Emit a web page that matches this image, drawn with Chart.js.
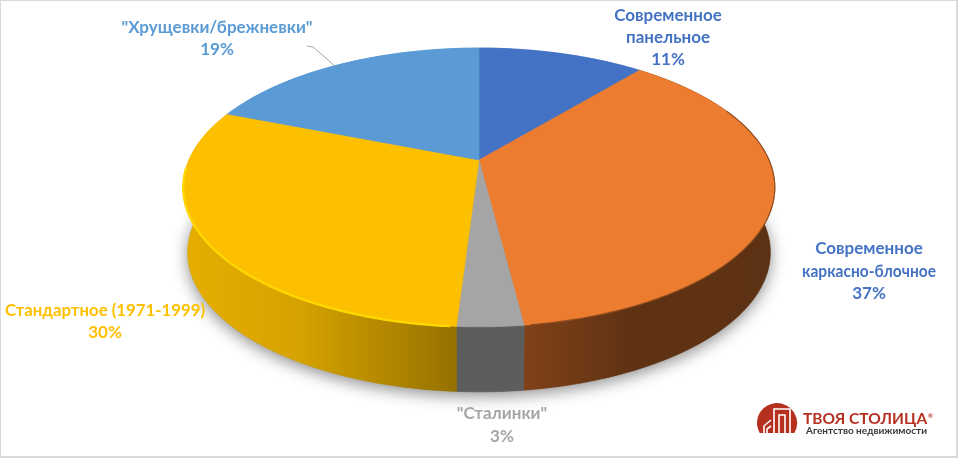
<!DOCTYPE html>
<html lang="ru">
<head>
<meta charset="utf-8">
<title>Структура жилья</title>
<script src="https://cdn.jsdelivr.net/npm/chart.js@4"></script>
<style>
  html, body { margin: 0; padding: 0; background: #fff; }
  canvas { display: block; }
</style>
</head>
<body>
<canvas id="pie" width="958" height="458"></canvas>
<script>
const categories = ['Современное панельное', 'Современное каркасно-блочное', '"Сталинки"', 'Стандартное (1971-1999)', '"Хрущевки/брежневки"'];
const shares = [11, 37, 3, 30, 19];
const sliceColors = ['#4472c4', '#eb7c30', '#a5a5a5', '#fdc000', '#5b9bd5'];
const labelLines = [['Современное', 'панельное'], ['Современное', 'каркасно-блочное'], ['"Сталинки"'], ['Стандартное (1971-1999)'], ['"Хрущевки/брежневки"']];
const labelColors = ['#4472c4', '#4472c4', '#a5a5a5', '#ffc000', '#5b9bd5'];

const FONT = 'Lato, "Open Sans", sans-serif';

// projection of the flat pie onto the tilted disc
const view = { cx: 479, cy: 160, rx: 290, ry: 134, k: 0.197, depth: 65, shrink: 0.985 };
const labelBoxes = [[668, 16, 22], [869, 249, 22.5], [502, 414, 23], [105, 311, 22], [217, 28, 22]];
const LABEL_MAX_WIDTH = 200;
const LONG_LINE_WIDTH = 134; // Lato runs wider than the original on this line

function topPoint(a) {
  const u = Math.cos(a), v = Math.sin(a);
  const w = 1 - view.k * v;
  return [view.cx + view.rx * u / w, view.cy + view.ry * v / w];
}
function bottomPoint(a) {
  const p = topPoint(a);
  return [view.cx + (p[0] - view.cx) * view.shrink, p[1] + view.depth];
}
function rimPoints(fn, a0, a1) {
  const pts = [];
  const n = Math.max(2, Math.ceil(Math.abs(a1 - a0) / 0.01));
  for (let i = 0; i <= n; i++) pts.push(fn(a0 + (a1 - a0) * i / n));
  return pts;
}
function trace(ctx, pts, start) {
  pts.forEach((p, i) => {
    if (i === 0 && start) ctx.moveTo(p[0], p[1]);
    else ctx.lineTo(p[0], p[1]);
  });
}

function wallFill(ctx, i) {
  const g = ctx.createLinearGradient(183, 0, 776, 0);
  if (i === 1) {
    g.addColorStop(0.58, '#7f4118');
    g.addColorStop(0.76, '#5f3213');
    g.addColorStop(1, '#5d3113');
  } else if (i === 2) {
    g.addColorStop(0, '#5a5a5a');
    g.addColorStop(1, '#5f5f5f');
  } else if (i === 3) {
    g.addColorStop(0, '#e6ae00');
    g.addColorStop(0.2, '#d6a200');
    g.addColorStop(0.46, '#957100');
  } else {
    g.addColorStop(0, sliceColors[i]);
    g.addColorStop(1, sliceColors[i]);
  }
  return g;
}

const discPlugin = {
  id: 'disc',
  beforeDraw(chart) {
    const ctx = chart.ctx;
    ctx.save();
    ctx.fillStyle = '#fff';
    ctx.fillRect(0, 0, 958, 458);
    ctx.strokeStyle = '#d9d9d9';
    ctx.lineWidth = 2;
    ctx.strokeRect(0, 0, 957, 457);
    ctx.restore();
  },
  beforeDatasetDraw(chart, args) {
    const ctx = chart.ctx;
    const arcs = chart.getDatasetMeta(args.index).data;
    ctx.save();

    // soft shadow under the disc
    ctx.save();
    ctx.shadowColor = 'rgba(0,0,0,0.45)';
    ctx.shadowBlur = 16;
    ctx.shadowOffsetY = 4;
    ctx.fillStyle = '#888';
    ctx.beginPath();
    trace(ctx, rimPoints(bottomPoint, 0, Math.PI * 2), true);
    ctx.closePath();
    ctx.fill();
    ctx.restore();

    // side walls
    arcs.forEach((arc, i) => {
      ctx.beginPath();
      trace(ctx, rimPoints(topPoint, arc.startAngle, arc.endAngle), true);
      trace(ctx, rimPoints(bottomPoint, arc.endAngle, arc.startAngle), false);
      ctx.closePath();
      ctx.fillStyle = wallFill(ctx, i);
      ctx.fill();
      ctx.strokeStyle = ctx.fillStyle;
      ctx.lineWidth = 0.6;
      ctx.stroke();
    });

    // top faces
    arcs.forEach((arc, i) => {
      ctx.beginPath();
      ctx.moveTo(view.cx, view.cy);
      trace(ctx, rimPoints(topPoint, arc.startAngle, arc.endAngle), false);
      ctx.closePath();
      ctx.fillStyle = sliceColors[i];
      ctx.fill();
      ctx.strokeStyle = sliceColors[i];
      ctx.lineWidth = 0.6;
      ctx.stroke();
    });

    // bevel on the yellow and orange rims
    const yellow = arcs[3];
    ctx.lineCap = 'round';
    ctx.strokeStyle = '#ffd800';
    ctx.lineWidth = 2.2;
    ctx.beginPath();
    trace(ctx, rimPoints(topPoint, yellow.startAngle + 0.02, Math.PI * 0.98), true);
    ctx.stroke();
    const orange = arcs[1];
    ctx.strokeStyle = 'rgba(120,62,24,0.7)';
    ctx.lineWidth = 1.2;
    ctx.beginPath();
    trace(ctx, rimPoints(topPoint, -0.4, orange.endAngle - 0.02), true);
    ctx.stroke();
    ctx.restore();
    return false;
  },
  afterDraw(chart) {
    const ctx = chart.ctx;
    ctx.save();

    // leader line of the blue slice
    ctx.strokeStyle = '#a6a6a6';
    ctx.lineWidth = 1;
    ctx.beginPath();
    ctx.moveTo(307, 46);
    ctx.lineTo(313, 47);
    ctx.lineTo(335, 66);
    ctx.stroke();

    // data labels
    ctx.textAlign = 'center';
    ctx.textBaseline = 'middle';
    ctx.font = 'bold 17px ' + FONT;
    categories.forEach((name, i) => {
      const box = labelBoxes[i];
      const lines = labelLines[i].concat(shares[i] + '%');
      ctx.fillStyle = labelColors[i];
      lines.forEach((line, j) => {
        const maxW = line === 'каркасно-блочное' ? LONG_LINE_WIDTH : LABEL_MAX_WIDTH;
        ctx.fillText(line, box[0], box[1] + j * box[2], maxW);
      });
    });

    // logo
    ctx.fillStyle = '#b5301f';
    ctx.beginPath();
    ctx.arc(777, 423, 20, Math.PI * 5 / 6, Math.PI / 6);
    ctx.closePath();
    ctx.fill();
    ctx.strokeStyle = '#fff';
    ctx.lineWidth = 1.6;
    ctx.beginPath();
    ctx.moveTo(774, 433); ctx.lineTo(774, 409); ctx.lineTo(790, 409); ctx.lineTo(790, 433);
    ctx.moveTo(779, 433); ctx.lineTo(779, 415); ctx.lineTo(785, 415); ctx.lineTo(785, 433);
    ctx.moveTo(764, 433); ctx.lineTo(764, 426); ctx.lineTo(771, 420);
    ctx.moveTo(767, 433); ctx.lineTo(767, 429); ctx.lineTo(771, 426);
    ctx.stroke();

    ctx.textAlign = 'left';
    ctx.fillStyle = '#b5301f';
    ctx.font = 'bold 15.5px ' + FONT;
    ctx.fillText('ТВОЯ СТОЛИЦА', 803, 419);
    ctx.font = 'bold 6px ' + FONT;
    ctx.fillText('®', 928, 416);
    ctx.fillStyle = '#3a3a3a';
    ctx.font = 'bold 10px ' + FONT;
    ctx.fillText('Агентство недвижимости', 806, 431);
    ctx.restore();
  }
};

new Chart(document.getElementById('pie'), {
  type: 'pie',
  data: {
    labels: categories,
    datasets: [{
      data: shares,
      backgroundColor: sliceColors,
      borderWidth: 0
    }]
  },
  options: {
    responsive: false,
    animation: false,
    plugins: {
      legend: { display: false },
      tooltip: { enabled: false }
    }
  },
  plugins: [discPlugin]
});
</script>
</body>
</html>
